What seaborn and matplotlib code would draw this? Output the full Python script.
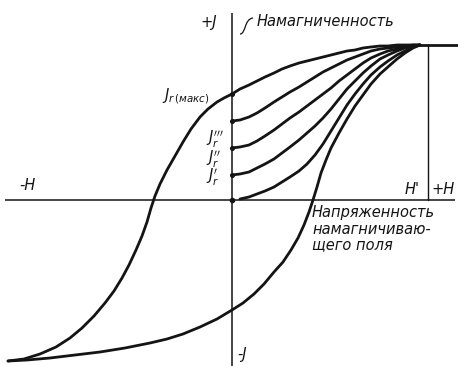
import matplotlib
matplotlib.use("Agg")
import matplotlib.pyplot as plt
from matplotlib.path import Path
from matplotlib.patches import PathPatch
import seaborn as sns

# Hysteresis loop of a ferromagnet: H = field strength, J = magnetisation
# descending branch (from saturation to -saturation)
down_h = [188, 181, 173, 165, 156, 148, 139, 131, 123, 115, 107, 99, 91, 83, 75,
          67, 58, 50, 42, 33, 25, 17, 8, 0, -8, -15, -24, -32, -41, -49, -57,
          -65, -72, -77, -81, -85, -90, -96, -103, -110, -118, -127, -138, -150,
          -162, -176, -192, -208, -224]
down_j = [155, 155, 155, 155, 154, 154, 153, 152, 150, 149, 147, 145, 143, 141, 139,
          137, 134, 131, 127, 123, 119, 115, 111, 106, 102, 98, 91, 83, 71, 58, 44,
          30, 16, 4, -8, -22, -36, -50, -65, -78, -91, -103, -116, -128,
          -138, -147, -154, -159, -161]

# ascending branch (from -saturation back to saturation)
up_h = [-224, -205, -182, -157, -132, -107, -82, -65, -49, -32, -15, 0, 11, 22, 32,
        42, 51, 59, 66, 72, 77, 81, 85, 89, 94, 99, 107, 115, 123, 131, 139, 148,
        157, 165, 173, 181, 188]
up_j = [-161, -160, -158, -155, -152, -148, -143, -139, -134, -127, -119, -110, -103,
        -94, -84, -72, -62, -50, -38, -25, -12, 0, 13, 27, 40, 52, 67, 81, 94, 105,
        116, 126, 134, 141, 147, 152, 155]

# magnetisation curves starting from the residual values J'r, J''r, J'''r and from zero
minor_h = [0, 8, 17, 25, 33, 42, 50, 58, 67, 75, 83, 91, 99, 107, 115, 123, 131,
           139, 148, 156, 165, 173, 181, 188]
virgin_j = [0, 1, 3, 6, 9, 13, 18, 23, 29, 36, 45, 56, 69, 82, 95, 106, 116, 125,
            133, 139, 145, 149, 153, 155]
j1_j = [25, 26, 28, 32, 36, 41, 47, 53, 60, 67, 74, 82, 91, 101, 111, 119, 127, 134,
        141, 145, 149, 152, 154, 155]
j2_j = [52, 53, 55, 59, 64, 70, 76, 82, 88, 94, 100, 106, 112, 119, 125, 131, 137,
        142, 146, 149, 151, 153, 154, 155]
j3_j = [79, 80, 83, 87, 92, 98, 103, 108, 113, 118, 123, 128, 132, 136, 140, 143,
        146, 149, 151, 152, 153, 154, 155, 155]

# saturation plateau and the field H'
sat_h = [181, 226]
sat_j = [155, 155]
h_prime = 196

ink = "#141414"
sns.set_theme(style="white")
plt.rcParams["font.family"] = ["DejaVu Sans"]
plt.rcParams["mathtext.fontset"] = "dejavusans"

fig = plt.figure(figsize=(4.58, 3.66), dpi=100)
ax = fig.add_axes([0, 0, 1, 1])
ax.set_xlim(-232, 226)
ax.set_ylim(-166, 200)
ax.axis("off")

# coordinate axes
ax.plot([0, 0], [187, -166], color=ink, lw=1.1, solid_capstyle="butt")
ax.plot([-227, 223], [0, 0], color=ink, lw=1.1, solid_capstyle="butt")
ax.plot([0], [0], marker="o", ms=3, color=ink)

curve_style = dict(color=ink, lw=2.0, solid_joinstyle="round",
                   solid_capstyle="round")
curves = [(down_h, down_j), (up_h, up_j), (minor_h[1:], virgin_j[1:]),
          (minor_h, j1_j), (minor_h, j2_j), (minor_h, j3_j), (sat_h, sat_j)]
for hx, jy in curves:
    sns.lineplot(x=hx, y=jy, sort=False, estimator=None, ax=ax, **curve_style)

# vertical mark at H'
ax.plot([h_prime, h_prime], [0, sat_j[0]], color=ink, lw=1.0)

# small start dots of the curves on the J axis
for j0 in [j1_j[0], j2_j[0], j3_j[0], down_j[23]]:
    ax.plot([0], [j0], marker="o", ms=2.6, color=ink)

fs = 10.5
txt = dict(color=ink, fontstyle="italic", fontsize=fs, va="center")

ax.text(-15, 178, "+J", ha="right", **txt)
ax.text(25, 178, "Намагниченность", ha="left", **txt)
leader = Path([(8, 166), (14, 166), (12, 181), (21, 182)],
              [Path.MOVETO, Path.CURVE4, Path.CURVE4, Path.CURVE4])
ax.add_patch(PathPatch(leader, fill=False, edgecolor=ink, lw=0.9))

ax.text(-70, 100, r"$J_{r\,(макс)}$", ha="left", va="baseline", color=ink,
        fontsize=fs)

# residual magnetisation labels J'''r, J''r, J'r
for jb, label in [(57, r"$J_{r}^{\prime\prime\prime}$"),
                  (37, r"$J_{r}^{\prime\prime}$"),
                  (18, r"$J_{r}^{\prime}$")]:
    ax.text(-26, jb, label, ha="left", va="baseline", color=ink, fontsize=fs)

ax.text(-205, 15, "-H", ha="center", **txt)
ax.text(180, 10, "H'", ha="center", **txt)
ax.text(211, 11, "+H", ha="center", **txt)
ax.text(5, -154, "-J", ha="left", **txt)

for jc, line in [(-12, "Напряженность"), (-29, "намагничиваю-"), (-45, "щего поля")]:
    ax.text(80, jc, line, ha="left", **txt)

fig.savefig("out.png", dpi=100, facecolor="white")
